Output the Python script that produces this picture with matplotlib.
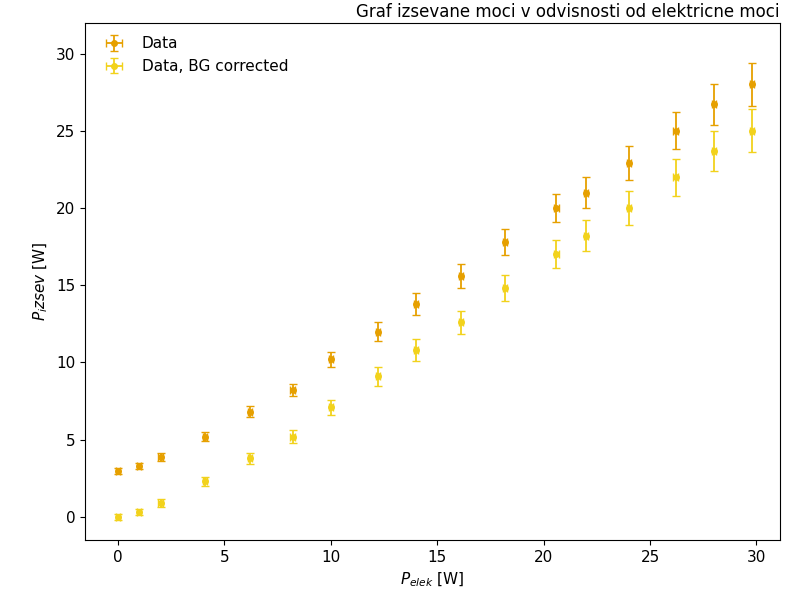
import matplotlib
matplotlib.use("Agg")
import matplotlib.pyplot as plt

# measured values
p_elek = [0.0, 1.0, 2.0, 4.1, 6.2, 8.2, 10.0, 12.2, 14.0, 16.1, 18.2, 20.6, 22.0, 24.0, 26.2, 28.0, 29.8]
p_izsev = [3.0, 3.3, 3.9, 5.2, 6.8, 8.2, 10.2, 12.0, 13.8, 15.6, 17.8, 20.0, 21.0, 22.9, 25.0, 26.7, 28.0]
p_izsev_bg = [0.0, 0.3, 0.9, 2.3, 3.8, 5.2, 7.1, 9.1, 10.8, 12.6, 14.8, 17.0, 18.2, 20.0, 22.0, 23.7, 25.0]
err_y = [0.2, 0.2, 0.25, 0.3, 0.35, 0.4, 0.5, 0.6, 0.7, 0.75, 0.85, 0.9, 1.0, 1.1, 1.2, 1.3, 1.4]
err_x = [0.1] * len(p_elek)

fig = plt.figure(figsize=(7.95, 6.11), dpi=100)
ax = fig.add_axes([0.107, 0.116, 0.874, 0.847])

ax.errorbar(p_elek, p_izsev, yerr=err_y, xerr=err_x, fmt='o', ms=4,
            color='#e6a000', capsize=3, elinewidth=1.3, label='Data')
ax.errorbar(p_elek, p_izsev_bg, yerr=err_y, xerr=err_x, fmt='o', ms=4,
            color='#f2d21c', capsize=3, elinewidth=1.3, label='Data, BG corrected')

ax.set_xlim(-1.55, 31.1)
ax.set_ylim(-1.5, 32.0)
ax.set_xticks([0, 5, 10, 15, 20, 25, 30])
ax.set_yticks([0, 5, 10, 15, 20, 25, 30])
ax.tick_params(labelsize=11)
ax.set_xlabel('$P_{elek}$ [W]', fontsize=11)
ax.set_ylabel('$P_izsev$ [W]', fontsize=11)

ax.legend(loc='upper left', frameon=False, fontsize=11)

ax.set_title('Graf izsevane moci v odvisnosti od elektricne moci',
             fontsize=12, loc='right', pad=4)

fig.savefig('out.png', dpi=100)
